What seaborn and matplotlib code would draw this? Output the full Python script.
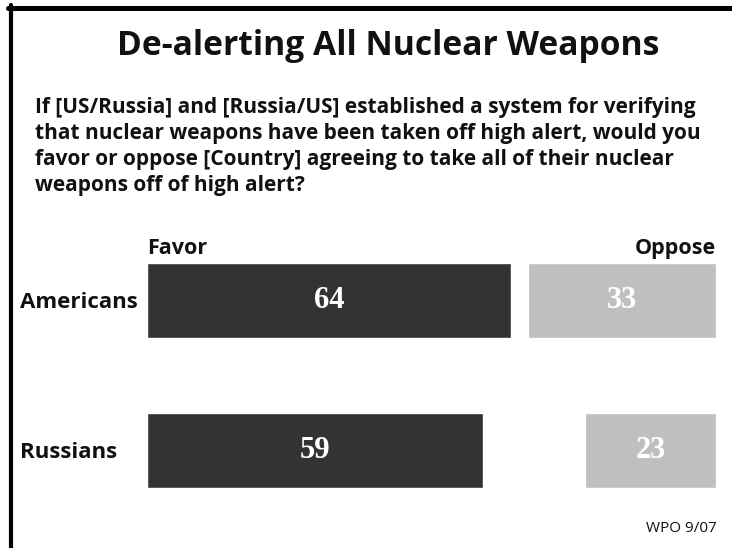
import matplotlib
matplotlib.use('Agg')
import matplotlib.pyplot as plt
import seaborn as sns
from matplotlib.lines import Line2D

# Chart data
groups = ['Americans', 'Russians']
favor = [64, 59]
oppose = [33, 23]

title = 'De-alerting All Nuclear Weapons'
question = ['If [US/Russia] and [Russia/US] established a system for verifying',
            'that nuclear weapons have been taken off high alert, would you',
            'favor or oppose [Country] agreeing to take all of their nuclear',
            'weapons off of high alert?']
source = 'WPO 9/07'

sns.set_theme(style='white')
plt.rcParams['font.family'] = ['Open Sans', 'DejaVu Sans']

W, H = 732, 548
fig = plt.figure(figsize=(W / 100, H / 100), dpi=100)
fig.patch.set_facecolor('white')
ink = '#111111'

# frame: top and left rules
fig.add_artist(Line2D([8 / W, 1], [1 - 7.5 / H, 1 - 7.5 / H], color='black', lw=3.6))
fig.add_artist(Line2D([11 / W, 11 / W], [1 - 5 / H, 0], color='black', lw=3.0))

fig.text(388 / W, 1 - 55 / H, title, ha='center', va='baseline',
         fontsize=24.2, fontweight='bold', color=ink)
for k, line in enumerate(question):
    fig.text(35 / W, 1 - (113 + 26 * k) / H, line, ha='left', va='baseline',
             fontsize=15, fontweight='bold', color=ink)

ax = fig.add_axes([147 / W, 1 - 525.5 / H, (716 - 147) / W, 300 / H])
sns.barplot(x=favor, y=groups, orient='h', color='#333333', saturation=1,
            width=0.5, ax=ax)
ax.barh(range(len(groups)), oppose, left=[100 - v for v in oppose],
        height=0.5, color='#bfbfbf')

for i, (f, o) in enumerate(zip(favor, oppose)):
    ax.text(f / 2, i, str(f), ha='center', va='center', color='white',
            fontsize=22, fontweight='bold', family='Liberation Serif')
    ax.text(100 - o / 2, i, str(o), ha='center', va='center', color='white',
            fontsize=22, fontweight='bold', family='Liberation Serif')

ax.text(0, -0.31, 'Favor', ha='left', va='baseline', fontsize=15.5,
        fontweight='bold', color=ink)
ax.text(100, -0.31, 'Oppose', ha='right', va='baseline', fontsize=15.5,
        fontweight='bold', color=ink)

ax.set_xlim(0, 100)
ax.set_ylim(1.5, -0.5)
ax.set_xticks([])
ax.set_xlabel('')
ax.set_ylabel('')
ax.set_yticks(range(len(groups)))
ax.set_yticklabels(groups, ha='left', fontsize=16, fontweight='bold', color=ink)
ax.tick_params(axis='y', length=0, pad=127 * 0.72)
for s in ax.spines.values():
    s.set_visible(False)
ax.set_facecolor('none')

fig.text(717 / W, 1 - 529 / H, source, ha='right', va='center',
         fontsize=11, color=ink)

fig.savefig('out.png', dpi=100)
